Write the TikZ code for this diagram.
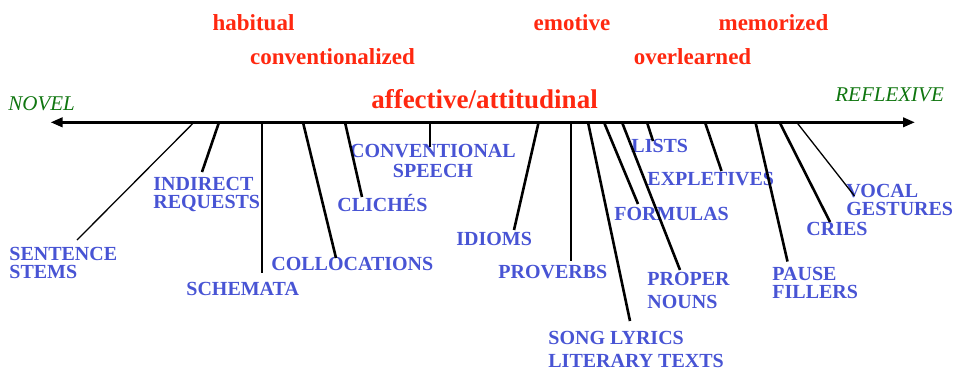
\documentclass[tikz,border=0pt]{standalone}
\usepackage{fontspec}
\setmainfont{Liberation Serif}
\usetikzlibrary{arrows.meta}
\definecolor{kindblue}{RGB}{72,84,212}
\definecolor{attrred}{RGB}{255,40,16}
\definecolor{polegreen}{RGB}{16,118,16}
\begin{document}
\begin{tikzpicture}[x=0.5pt,y=-0.5pt,
  attr/.style={text=attrred,font=\bfseries\fontsize{11.5}{13}\selectfont,inner sep=0pt,anchor=base},
  pole/.style={text=polegreen,font=\itshape\fontsize{10.5}{12}\selectfont,inner sep=0pt,anchor=base west},
  kind/.style={text=kindblue,font=\bfseries\fontsize{10}{8.8}\selectfont,inner sep=0pt,anchor=base west,align=left},
  kinds/.style={kind,anchor=north west},
  axisline/.style={line width=1.5pt,{Triangle[length=6pt,width=4.6pt]}-{Triangle[length=6pt,width=4.6pt]}},
  lead/.style={line width=1.3pt},
  thinlead/.style={line width=0.65pt}]
  \useasboundingbox (0,0) rectangle (957,371);
  % attributes
  \node[attr] (hab) at (253.5,30) {habitual};
  \node[attr] (conv) at (332.5,64) {conventionalized};
  \node[attr] (emo) at (572,30) {emotive};
  \node[attr] (mem) at (773.5,30) {memorized};
  \node[attr] (over) at (692.5,64) {overlearned};
  \node[attr,font=\bfseries\fontsize{13.5}{15}\selectfont] (aff) at (484.5,108) {affective/attitudinal};
  % the scale
  \node[pole] (novel) at (8,110.7) {NOVEL};
  \node[pole] (refl) at (835,101.7) {REFLEXIVE};
  \coordinate (left) at (50.5,122.3);
  \coordinate (right) at (915,122.3);
  \draw[axisline] (left) -- (right);
  % kinds of expressions
  \node[kinds] (ss) at (9,246.8) {SENTENCE\\STEMS};
  \node[kinds] (ir) at (153,176.8) {INDIRECT\\REQUESTS};
  \node[kind] (sc) at (186,295) {SCHEMATA};
  \node[kind] (co) at (271,270.7) {COLLOCATIONS};
  \node[kind] (cl) at (337,211.7) {CLICHÉS};
  \node[kind,anchor=north,align=center] (cs) at (433,144.1) {CONVENTIONAL\\[0.9pt]SPEECH};
  \node[kind] (id) at (456,245) {IDIOMS};
  \node[kind] (pv) at (498,278) {PROVERBS};
  \node[kinds] (sl) at (548,330.8) {SONG LYRICS\\[2.7pt]LITERARY TEXTS};
  \node[kind] (fo) at (614,220) {FORMULAS};
  \node[kinds] (pn) at (647,271.4) {PROPER\\[2.7pt]NOUNS};
  \node[kind] (li) at (631,152) {LISTS};
  \node[kind] (ex) at (647,185.6) {EXPLETIVES};
  \node[kinds] (pf) at (772,267.1) {PAUSE\\FILLERS};
  \node[kind] (cr) at (806,235.8) {CRIES};
  \node[kinds] (vg) at (846,183.8) {VOCAL\\GESTURES};
  % leaders from the scale
  \coordinate (ssA) at (194,122.3); \coordinate (ssB) at (77,240); \draw[thinlead] (ssA) -- (ssB);
  \coordinate (irA) at (219,122.3); \coordinate (irB) at (202,172); \draw[lead] (irA) -- (irB);
  \coordinate (scA) at (262,122.3); \coordinate (scB) at (262,273); \draw[lead] (scA) -- (scB);
  \coordinate (coA) at (303,122.3); \coordinate (coB) at (336,258); \draw[lead] (coA) -- (coB);
  \coordinate (clA) at (345,122.3); \coordinate (clB) at (362,197); \draw[lead] (clA) -- (clB);
  \coordinate (csA) at (430,122.3); \coordinate (csB) at (430,147); \draw[lead] (csA) -- (csB);
  \coordinate (idA) at (538.6,122.3); \coordinate (idB) at (514,230); \draw[lead] (idA) -- (idB);
  \coordinate (pvA) at (571,122.3); \coordinate (pvB) at (571,261); \draw[lead] (pvA) -- (pvB);
  \coordinate (slA) at (588,122.3); \coordinate (slB) at (630,321); \draw[lead] (slA) -- (slB);
  \coordinate (foA) at (604,122.3); \coordinate (foB) at (638,204); \draw[lead] (foA) -- (foB);
  \coordinate (pnA) at (622,122.3); \coordinate (pnB) at (680,270); \draw[lead] (pnA) -- (pnB);
  \coordinate (liA) at (647,122.3); \coordinate (liB) at (653,141); \draw[lead] (liA) -- (liB);
  \coordinate (exA) at (705,122.3); \coordinate (exB) at (721.5,171); \draw[lead] (exA) -- (exB);
  \coordinate (pfA) at (755.5,122.3); \coordinate (pfB) at (787.5,261.5); \draw[lead] (pfA) -- (pfB);
  \coordinate (crA) at (779.6,122.3); \coordinate (crB) at (830,222); \draw[lead] (crA) -- (crB);
  \coordinate (vgA) at (796.7,122.3); \coordinate (vgB) at (854.5,196); \draw[thinlead] (vgA) -- (vgB);
\end{tikzpicture}
\end{document}
